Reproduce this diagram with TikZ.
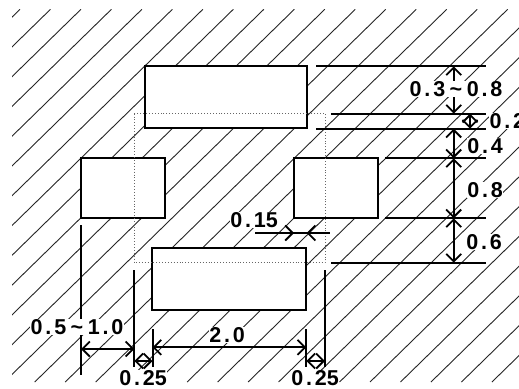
\documentclass[tikz,border=0pt]{standalone}
\usepackage{fontspec}
\setmainfont{Liberation Sans}
\usetikzlibrary{arrows.meta}
\newcommand{\dt}{\kern2.8pt.\kern2.8pt}
\newcommand{\tl}{\kern4.5pt\textasciitilde\kern4.5pt}
\begin{document}
\begin{tikzpicture}[x=1pt,y=-1pt,line join=miter]
\tikzstyle{hatch} = [draw=black!85,line width=0.9pt]
\tikzstyle{pad} = [draw=black,fill=white,line width=2pt,shape=rectangle,inner sep=0pt,outer sep=0pt]
\tikzstyle{ext} = [draw=black,line width=2pt]
\tikzstyle{dim} = [draw=black,line width=2pt,{Straight Barb[length=7.5pt,width=15pt,line width=1.8pt]}-{Straight Barb[length=7.5pt,width=15pt,line width=1.8pt]}]
\tikzstyle{lbl} = [fill=white,inner sep=0.5pt,font=\fontsize{21.5}{22}\selectfont\bfseries]
\useasboundingbox (0,0) rectangle (519,388);
\fill[white] (0,0) rectangle (519,388);
% ground hatching
\begin{scope}
\clip (12,9.3) rectangle (519,382);
\foreach \k in {0,...,28}
  \draw[hatch] ({20+30.48*\k},9.3) -- ({20+30.48*\k-381.5},382);
\end{scope}
% pads
\node[pad,minimum width=162pt,minimum height=62pt] (topPad) at (225.8,97.4) {};
\node[pad,minimum width=84pt,minimum height=59.5pt] (leftPad) at (123,188.2) {};
\node[pad,minimum width=84.3pt,minimum height=60pt] (rightPad) at (336.2,188.3) {};
\node[pad,minimum width=154pt,minimum height=62.6pt] (botPad) at (229.3,279) {};
% outline
\draw[black!60,line width=0.9pt,dotted] (134.3,113.6) rectangle (325,262.7);
% right extension lines
\coordinate (t0) at (316,66.3);   \coordinate (t1) at (331,113.7);
\coordinate (t2) at (316,128.7);  \coordinate (t3) at (385,158.3);
\coordinate (t4) at (385,218.3);  \coordinate (t5) at (331,262.7);
\foreach \n in {t0,t1,t2,t3,t4,t5}
  \draw[ext] (\n) -- (485.7,0 |- \n);
% right dimensions
\draw[dim] (453.7,66.3) -- (453.7,113.7);
\draw[dim] (470,113.7) -- (470,128.7);
\draw[dim] (453.7,128.7) -- (453.7,158.3);
\draw[dim] (453.7,158.3) -- (453.7,218.3);
\draw[dim] (453.7,218.3) -- (453.7,262.7);
% bottom extension lines
\coordinate (b0) at (81,225);     \coordinate (b1) at (134.3,270);
\coordinate (b2) at (152.5,329);  \coordinate (b3) at (306.3,329);
\coordinate (b4) at (325,270);
\draw[ext] (b0) -- (81,375);
\draw[ext] (b1) -- (134.3,367);
\draw[ext] (b2) -- (152.5,367);
\draw[ext] (b3) -- (306.3,367);
\draw[ext] (b4) -- (325,367);
% bottom dimensions
\draw[dim] (81,349) -- (134.3,349);
\draw[dim] (152.5,347.3) -- (306.3,347.3);
\draw[dim] (134.3,361) -- (152.5,361);
\draw[dim] (306.3,361) -- (325,361);
% gap dimension
\draw[ext] (255,233) -- (330,233);
\draw[dim,{Straight Barb[length=7.5pt,width=15pt,line width=1.8pt]}-] (294,233) -- (255,233);
\draw[dim,{Straight Barb[length=7.5pt,width=15pt,line width=1.8pt]}-] (306.5,233) -- (330,233);
% labels
\node[lbl] (gapTop) at (456,89) {0\dt3\tl0\dt8};
\node[lbl,anchor=west] (thin) at (489,121) {0\dt2};
\node[lbl] (d04) at (485,146) {0\dt4};
\node[lbl] (d08) at (485,190) {0\dt8};
\node[lbl] (d06) at (484,242) {0\dt6};
\node[lbl] (d015) at (254,220) {0\dt15};
\node[lbl] (dSide) at (77,327) {0\dt5\tl1\dt0};
\node[lbl] (d20) at (227,335) {2\dt0};
\node[lbl] (dA) at (143,378) {0\dt25};
\node[lbl] (dB) at (315,378) {0\dt25};
\end{tikzpicture}
\end{document}
